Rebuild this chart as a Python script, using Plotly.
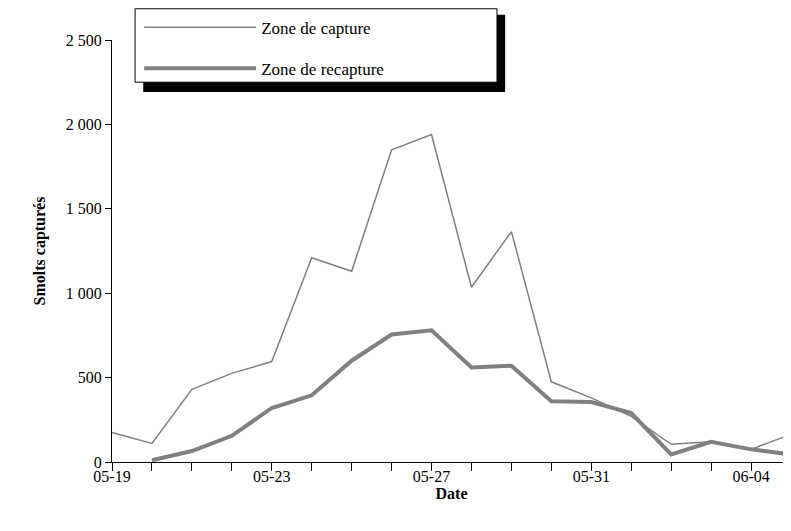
import plotly.graph_objects as go

dates = ["05-19", "05-20", "05-21", "05-22", "05-23", "05-24", "05-25", "05-26", "05-27",
         "05-28", "05-29", "05-30", "05-31", "06-01", "06-02", "06-03", "06-04", "06-05"]
capture = [175, 110, 430, 525, 595, 1210, 1130, 1850, 1940, 1035, 1365, 475, 380, 270, 105, 120, 75, 165]
recapture = [None, 10, 65, 155, 320, 395, 600, 755, 780, 560, 570, 360, 355, 290, 45, 120, 75, 45]
y_ticks = [0, 500, 1000, 1500, 2000, 2500]
y_labels = ["0", "500", "1 000", "1 500", "2 000", "2 500"]

x = list(range(len(dates)))
font = dict(family="Liberation Serif", size=16, color="black")

fig = go.Figure()
fig.add_trace(go.Scatter(x=x, y=capture, mode="lines", name="Zone de capture",
                         legendgroup="a", line=dict(color="#808080", width=1.5)))
fig.add_trace(go.Scatter(x=x, y=recapture, mode="lines", name="Zone de recapture",
                         legendgroup="b", line=dict(color="#808080", width=4)))

# cadre + ombre de la légende
fig.add_shape(type="rect", xref="paper", yref="paper", x0=0.046, x1=0.579, y0=0.877, y1=1.06,
              fillcolor="black", line=dict(width=0), layer="above")
fig.add_shape(type="rect", xref="paper", yref="paper", x0=0.034, x1=0.567, y0=0.9, y1=1.074,
              fillcolor="white", line=dict(width=1, color="black"), layer="above")

# la page html décale le graphique de 8 px (marge du body)
fig.update_layout(
    width=791, height=531, font=font,
    plot_bgcolor="white", paper_bgcolor="white",
    margin=dict(l=104, r=8, t=32, b=77, autoexpand=False),
    showlegend=True,
    legend=dict(x=0.04, y=1.072, xanchor="left", yanchor="top", bgcolor="rgba(0,0,0,0)",
                borderwidth=0, font=dict(family="Liberation Serif", size=17, color="black"),
                itemwidth=112, traceorder="grouped", tracegroupgap=16),
    xaxis=dict(range=[0, 17], tickvals=x[::4], ticktext=dates[::4], showgrid=False,
               zeroline=False, showline=True, linecolor="black", ticks="outside",
               ticklen=0, automargin=False,
               title=dict(text="<b>Date</b>", font=font, standoff=0)),
    yaxis=dict(range=[0, 2500], tickvals=y_ticks, ticktext=y_labels, showgrid=False,
               zeroline=False, showline=True, linecolor="black", ticks="outside",
               tickcolor="black", ticklen=6, automargin=False,
               title=dict(text="<b>Smolts capturés</b>", font=font, standoff=16)),
)
# petites graduations journalières
fig.update_xaxes(minor=dict(tickvals=x, ticks="outside", ticklen=8, tickcolor="black"))

fig.write_html("out.html")
